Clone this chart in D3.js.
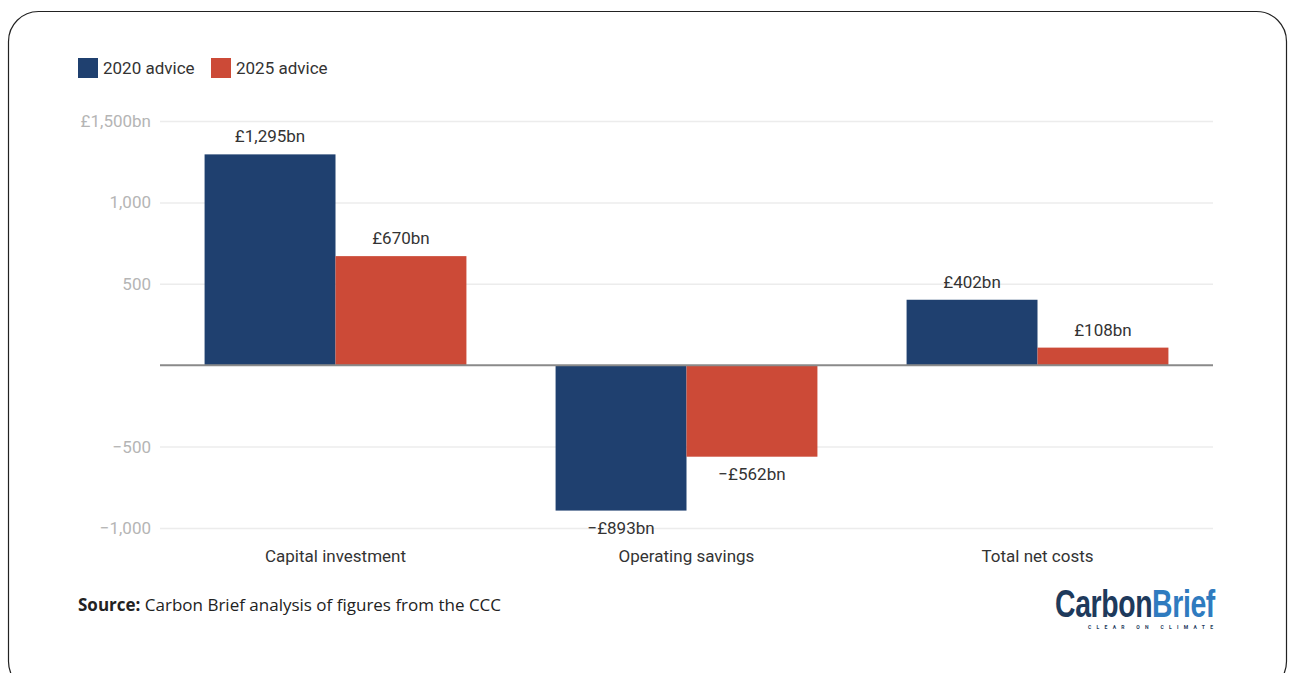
<!DOCTYPE html>
<html><head><meta charset="utf-8">
<script src="https://cdn.jsdelivr.net/npm/d3@7"></script>
<style>
html,body{margin:0;padding:0;background:#fff;}
svg{display:block;}
</style></head>
<body>
<svg id="chart" width="1290" height="673"></svg>
<script>
const categories = ["Capital investment", "Operating savings", "Total net costs"];
const seriesNames = ["2020 advice", "2025 advice"];
const values2020 = [1295, -893, 402];
const values2025 = [670, -562, 108];
const tickValues = [-1000, -500, 0, 500, 1000, 1500];
const tickLabels = ["−1,000", "−500", "", "500", "1,000", "£1,500bn"];
const colors = ["#1f406f", "#cc4a37"];

const svg = d3.select("#chart");
const font = "Roboto, 'Noto Sans', sans-serif";

// frame
svg.append("rect").attr("x", 8.5).attr("y", 11.5).attr("width", 1278).attr("height", 680)
  .attr("rx", 30).attr("fill", "none").attr("stroke", "#222").attr("stroke-width", 1.2);

const left = 160, right = 1213;
const y = d3.scaleLinear().domain([-1000, 1500]).range([528, 121]);
const x0 = d3.scaleBand().domain(categories).range([left, right]).paddingInner(0.254).paddingOuter(0.127);
const x1 = d3.scaleBand().domain(seriesNames).range([0, x0.bandwidth()]);

// gridlines
const yAxis = d3.axisLeft(y).tickValues(tickValues).tickSize(-(right - left)).tickFormat((d, i) => tickLabels[i]);
const gAxis = svg.append("g").attr("transform", `translate(${left},0)`).call(yAxis);
gAxis.select(".domain").remove();
gAxis.selectAll(".tick line").attr("stroke", d => d === 0 ? "none" : "#ececec").attr("stroke-width", 1.5);
gAxis.selectAll(".tick text").attr("x", -9).attr("fill", "#b5b5b5")
  .style("font-family", font).style("font-size", "17px");

// bars
const data = categories.map((c, i) => ({cat: c, vals: [values2020[i], values2025[i]]}));
const groups = svg.append("g").selectAll("g").data(data).join("g")
  .attr("transform", d => `translate(${x0(d.cat)},0)`);
groups.selectAll("rect").data(d => d.vals.map((v, j) => ({v, s: seriesNames[j], j})))
  .join("rect")
  .attr("x", d => x1(d.s)).attr("width", x1.bandwidth())
  .attr("y", d => y(Math.max(0, d.v))).attr("height", d => Math.abs(y(d.v) - y(0)))
  .attr("fill", d => colors[d.j]);

const fmt = v => (v < 0 ? "−£" : "£") + d3.format(",")(Math.abs(v)) + "bn";
groups.selectAll("text").data(d => d.vals.map((v, j) => ({v, s: seriesNames[j], j})))
  .join("text")
  .attr("x", d => x1(d.s) + x1.bandwidth() / 2)
  .attr("y", d => d.v >= 0 ? y(d.v) - 12 : y(d.v) + 23)
  .attr("text-anchor", "middle").attr("fill", "#333")
  .style("font-family", font).style("font-size", "17px")
  .text(d => fmt(d.v));

// zero line
svg.append("line").attr("x1", left).attr("x2", right).attr("y1", y(0)).attr("y2", y(0))
  .attr("stroke", "#8a8a8a").attr("stroke-width", 2);

// category labels
svg.append("g").selectAll("text").data(categories).join("text")
  .attr("x", d => x0(d) + x0.bandwidth() / 2).attr("y", 562)
  .attr("text-anchor", "middle").attr("fill", "#333")
  .style("font-family", font).style("font-size", "17px")
  .text(d => d);

// legend
const leg = svg.append("g").selectAll("g").data(seriesNames).join("g")
  .attr("transform", (d, i) => `translate(${i === 0 ? 78 : 211},58)`);
leg.append("rect").attr("width", 20).attr("height", 20).attr("fill", (d, i) => colors[i]);
leg.append("text").attr("x", 25).attr("y", 16).attr("fill", "#333")
  .style("font-family", font).style("font-size", "17px").text(d => d);

// source
const src = svg.append("text").attr("x", 78).attr("y", 611).attr("fill", "#222")
  .style("font-family", "'Open Sans', sans-serif").style("font-size", "17px");
src.append("tspan").style("font-weight", "bold").text("Source:");
src.append("tspan").text(" Carbon Brief analysis of figures from the CCC");

// logo (condensed via horizontal scale)
const logoG = svg.append("g");
const logo = logoG.append("text").attr("x", 0).attr("y", 0)
  .style("font-family", "'Liberation Sans Narrow', 'Liberation Sans', sans-serif")
  .style("font-weight", "bold").style("font-size", "38px").style("letter-spacing", "-0.5px");
logo.append("tspan").attr("fill", "#1e3a5c").text("Carbon");
logo.append("tspan").attr("fill", "#2f7bbf").text("Brief");
const natW = logo.node().getComputedTextLength() || 220;
logoG.attr("transform", `translate(1055,617) scale(${160 / natW},1)`);
svg.append("text").attr("x", 1088).attr("y", 629)
  .attr("textLength", 125).attr("lengthAdjust", "spacing")
  .attr("fill", "#1e3a5c").style("font-family", font).style("font-weight", "bold")
  .style("font-size", "5px").text("CLEAR ON CLIMATE");
</script>
</body></html>
